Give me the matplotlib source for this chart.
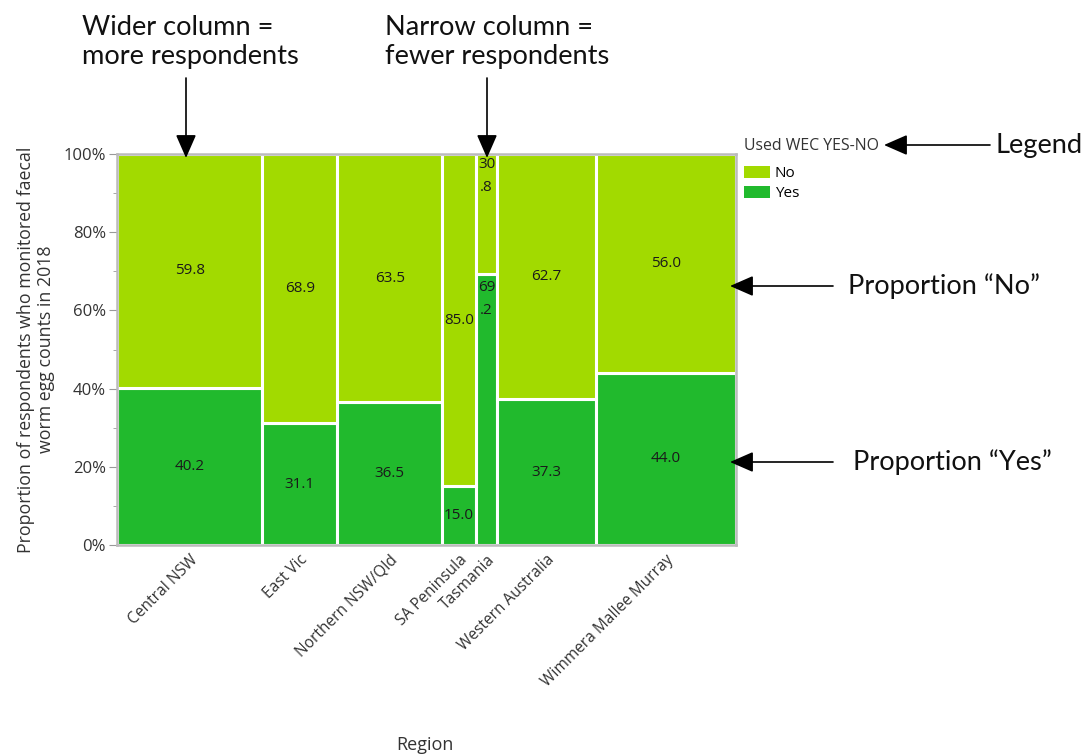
import numpy as np
import matplotlib
matplotlib.use("Agg")
import matplotlib.pyplot as plt
from matplotlib.patches import Patch
from matplotlib.ticker import MultipleLocator, FuncFormatter

# data
regions = ["Central NSW", "East Vic", "Northern NSW/Qld", "SA Peninsula",
           "Tasmania", "Western Australia", "Wimmera Mallee Murray"]
respondents = [87, 45, 63, 20, 13, 59, 84]   # column widths (estimated counts)
yes_pct = [40.2, 31.1, 36.5, 15.0, 69.2, 37.3, 44.0]
no_pct = [59.8, 68.9, 63.5, 85.0, 30.8, 62.7, 56.0]

col_no = "#a2da00"
col_yes = "#21ba2d"
W, H = 1084, 756

plt.rcParams['font.family'] = ['Open Sans', 'DejaVu Sans']

fig = plt.figure(figsize=(W / 100, H / 100), dpi=100)
ax = fig.add_axes([117 / W, 1 - 545 / H, (736 - 117) / W, (545 - 154) / H])

# mosaic columns
frac = np.array(respondents) / sum(respondents)
left = np.concatenate([[0], np.cumsum(frac)[:-1]])
ax.bar(left, yes_pct, width=frac, align='edge', color=col_yes,
       edgecolor='white', linewidth=2.2)
ax.bar(left, no_pct, width=frac, bottom=yes_pct, align='edge', color=col_no,
       edgecolor='white', linewidth=2.2)

# cell labels
for i in range(len(regions)):
    xc = left[i] + frac[i] / 2
    ys, ns = "%.1f" % yes_pct[i], "%.1f" % no_pct[i]
    if frac[i] < 0.045:  # too narrow, text wraps at top of cell
        ax.text(xc, yes_pct[i] - 1.3, ys[:2] + "\n" + ys[2:], ha='center', va='top',
                fontsize=11, color='#1a1a1a', linespacing=1.75)
        ax.text(xc, 99.3, ns[:2] + "\n" + ns[2:], ha='center', va='top',
                fontsize=11, color='#1a1a1a', linespacing=1.75)
    else:
        ax.text(xc, yes_pct[i] / 2, ys, ha='center', va='center',
                fontsize=11, color='#1a1a1a')
        ax.text(xc, yes_pct[i] + no_pct[i] / 2, ns, ha='center', va='center',
                fontsize=11, color='#1a1a1a')

ax.set_xlim(0, 1)
ax.set_ylim(0, 100)
ax.set_xticks(left + frac / 2)
ax.set_xticklabels(regions, rotation=45, ha='right', va='top',
                   rotation_mode='anchor', fontsize=11.2, color='#333333')
ax.tick_params(axis='x', length=0, pad=5)
ax.yaxis.set_major_locator(MultipleLocator(20))
ax.yaxis.set_minor_locator(MultipleLocator(10))
ax.yaxis.set_major_formatter(FuncFormatter(lambda v, p: "%d%%" % v))
ax.tick_params(axis='y', which='major', length=6, color='#999999',
               labelsize=12, labelcolor='#333333', pad=2)
ax.tick_params(axis='y', which='minor', length=3, color='#999999')
for s in ax.spines.values():
    s.set_color('#bbbbbb')
    s.set_linewidth(1.8)

ax.set_ylabel("Proportion of respondents who monitored faecal\nworm egg counts in 2018",
              fontsize=12.8, color='#333333', labelpad=6, linespacing=1.15)
fig.text(425 / W, 1 - 745 / H, "Region", ha='center', va='center',
         fontsize=13, color='#333333')

# legend
handles = [Patch(facecolor=col_no, edgecolor='none', label="No"),
           Patch(facecolor=col_yes, edgecolor='none', label="Yes")]
leg = fig.legend(handles=handles, title="Used WEC YES-NO", loc='upper left',
                 bbox_to_anchor=(739 / W, 1 - 133 / H), frameon=False,
                 fontsize=11, title_fontsize=11.4, alignment='left',
                 handlelength=1.75, handleheight=0.8, handletextpad=0.3,
                 labelspacing=0.3, borderaxespad=0, borderpad=0.3)
leg.get_title().set_color('#333333')
leg._legend_box.sep = 9


# explanatory callouts (positions given in image pixels from top-left)
def fp(x, y):
    return (x / W, 1 - y / H)


arrow = dict(arrowstyle='-|>,head_width=0.35,head_length=0.8', color='black',
             lw=1.2, mutation_scale=18, shrinkA=0, shrinkB=0)
callouts = [("Wider column =\nmore respondents", (82, 42), (186, 78), (186, 158)),
            ("Narrow column =\nfewer respondents", (385, 42), (487, 78), (487, 158))]
for txt, tpos, a0, a1 in callouts:
    fig.text(*fp(*tpos), txt, ha='left', va='center', fontsize=19.6,
             family='Lato', linespacing=1.2, color='#111111')
    ax.annotate("", xy=fp(*a1), xytext=fp(*a0), xycoords='figure fraction',
                textcoords='figure fraction', arrowprops=arrow)

side = [("Legend", (996, 145), (990, 145), (884, 145)),
        ("Proportion \u201cNo\u201d", (848, 286), (833, 286), (730, 286)),
        ("Proportion \u201cYes\u201d", (853, 462), (833, 462), (730, 462))]
for txt, tpos, a0, a1 in side:
    fig.text(*fp(*tpos), txt, ha='left', va='center', fontsize=19.6,
             family='Lato', color='#111111')
    ax.annotate("", xy=fp(*a1), xytext=fp(*a0), xycoords='figure fraction',
                textcoords='figure fraction', arrowprops=arrow)

fig.savefig("out.png", dpi=100)
